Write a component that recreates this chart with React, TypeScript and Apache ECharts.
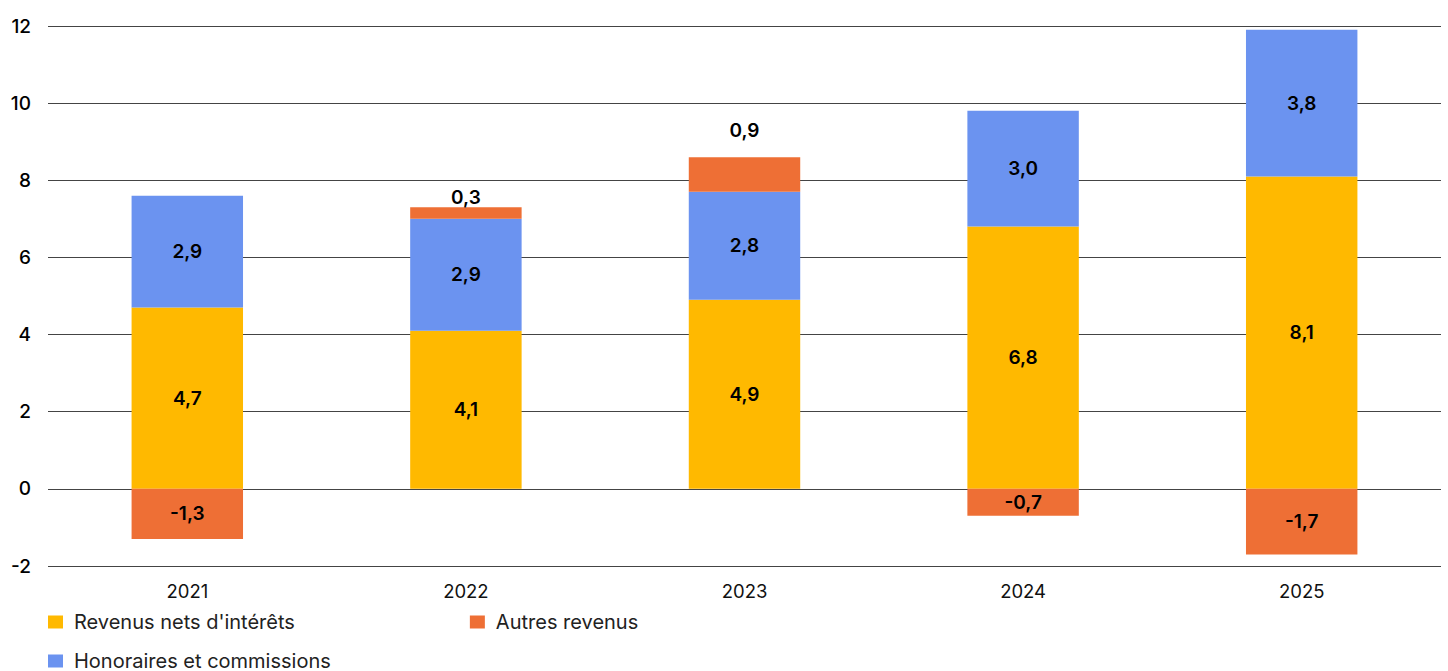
import React, { useEffect, useRef } from "react";
import * as echarts from "echarts";

const categories = ["2021", "2022", "2023", "2024", "2025"];
const revenusNets = [4.7, 4.1, 4.9, 6.8, 8.1];
const honoraires = [2.9, 2.9, 2.8, 3.0, 3.8];
const autres = [-1.3, 0.3, 0.9, -0.7, -1.7];
const autresLabelDistance = [0, 0, 17, 0, 0];

const FONT = "Inter, 'Noto Sans', sans-serif";
const fmt = (v: number) => v.toFixed(1).replace(".", ",");

export default function App() {
  const ref = useRef<HTMLDivElement>(null);
  useEffect(() => {
    document.body.style.margin = "0";
    const chart = echarts.init(ref.current!, null, { renderer: "svg" });
    const labelBase = {
      show: true,
      color: "#000",
      fontSize: 19,
      fontWeight: 600,
      fontFamily: FONT,
      formatter: (p: any) => fmt(p.value as number),
    };
    const legendText = {
      fontSize: 20,
      lineHeight: 18,
      color: "#222",
      fontFamily: FONT,
      padding: [0, 0, 0, 6],
    };
    chart.setOption({
      animation: false,
      textStyle: { fontFamily: FONT },
      grid: { left: 48, right: 7, top: 26, bottom: 105, containLabel: false },
      legend: [
        {
          left: 48,
          top: 612,
          padding: 0,
          itemWidth: 15,
          itemHeight: 13,
          itemGap: 175,
          icon: "rect",
          textStyle: legendText,
          data: ["Revenus nets d'intérêts", "Autres revenus"],
        },
        {
          left: 48,
          top: 651,
          padding: 0,
          itemWidth: 15,
          itemHeight: 13,
          icon: "rect",
          textStyle: legendText,
          data: ["Honoraires et commissions"],
        },
      ],
      xAxis: {
        type: "category",
        data: categories,
        axisLine: { show: false },
        axisTick: { show: false },
        axisLabel: { fontSize: 18.5, color: "#111", margin: 15, fontFamily: FONT },
      },
      yAxis: {
        type: "value",
        min: -2,
        max: 12,
        interval: 2,
        axisLine: { show: false },
        axisTick: { show: false },
        axisLabel: {
          fontSize: 19,
          color: "#000",
          fontWeight: 500,
          margin: 17,
          fontFamily: FONT,
          verticalAlign: "middle",
          padding: [0, 0, 10, 0],
        },
        splitLine: { lineStyle: { color: "#444", width: 1 } },
      },
      series: [
        {
          name: "Revenus nets d'intérêts",
          type: "bar",
          stack: "total",
          barWidth: "40%",
          itemStyle: { color: "#FFB900" },
          label: { ...labelBase, position: "inside" },
          data: revenusNets,
        },
        {
          name: "Honoraires et commissions",
          type: "bar",
          stack: "total",
          barWidth: "40%",
          itemStyle: { color: "#6B93F0" },
          label: { ...labelBase, position: "inside" },
          data: honoraires,
        },
        {
          name: "Autres revenus",
          type: "bar",
          stack: "total",
          barWidth: "40%",
          itemStyle: { color: "#EE6F35" },
          label: labelBase,
          data: autres.map((v, i) => ({
            value: v,
            label: v >= 0
              ? { position: "top", distance: autresLabelDistance[i] }
              : { position: "inside" },
          })),
        },
      ],
    });
    return () => chart.dispose();
  }, []);
  return <div ref={ref} style={{ width: 1448, height: 671 }} />;
}
